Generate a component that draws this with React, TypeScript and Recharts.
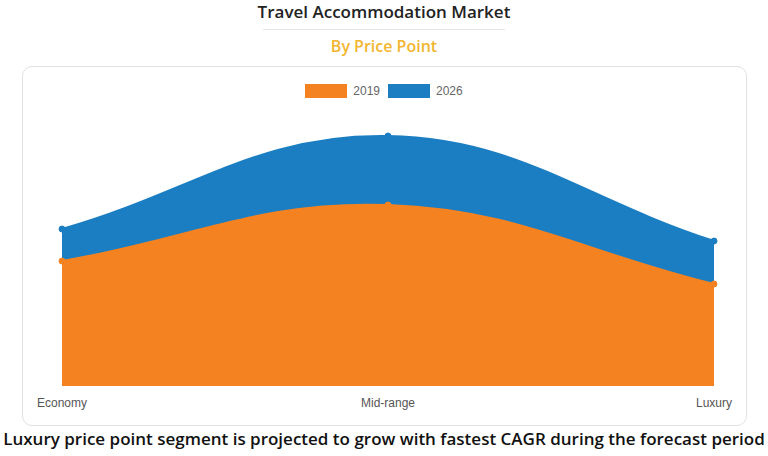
import { AreaChart, Area, XAxis, YAxis } from "recharts";

const categories = ["Economy", "Mid-range", "Luxury"];
const values2019 = [125, 181, 102];
const values2026 = [157, 250, 145];

const ORANGE = "#F58220";
const BLUE = "#1B7EC2";

const chartData = categories.map((name, i) => ({
  name,
  y2019: values2019[i],
  y2026: values2026[i],
}));

// spline with tension, like the one used by the original chart
function tensionCurve(context: any) {
  const t = 0.4;
  let line = NaN;
  let pts: number[][] = [];
  return {
    areaStart() {
      line = 0;
    },
    areaEnd() {
      line = NaN;
    },
    lineStart() {
      pts = [];
    },
    lineEnd() {
      const n = pts.length;
      if (n) {
        if (line) context.lineTo(pts[0][0], pts[0][1]);
        else context.moveTo(pts[0][0], pts[0][1]);
        const cpPrev: number[][] = [];
        const cpNext: number[][] = [];
        for (let i = 0; i < n; i++) {
          const prev = pts[Math.max(0, i - 1)];
          const cur = pts[i];
          const next = pts[Math.min(n - 1, i + 1)];
          const d01 = Math.hypot(cur[0] - prev[0], cur[1] - prev[1]);
          const d12 = Math.hypot(next[0] - cur[0], next[1] - cur[1]);
          let s01 = d01 / (d01 + d12);
          let s12 = d12 / (d01 + d12);
          if (isNaN(s01)) s01 = 0;
          if (isNaN(s12)) s12 = 0;
          const fa = t * s01;
          const fb = t * s12;
          cpPrev.push([cur[0] - fa * (next[0] - prev[0]), cur[1] - fa * (next[1] - prev[1])]);
          cpNext.push([cur[0] + fb * (next[0] - prev[0]), cur[1] + fb * (next[1] - prev[1])]);
        }
        for (let i = 1; i < n; i++) {
          context.bezierCurveTo(
            cpNext[i - 1][0],
            cpNext[i - 1][1],
            cpPrev[i][0],
            cpPrev[i][1],
            pts[i][0],
            pts[i][1]
          );
        }
      }
      if (line || (line !== 0 && n === 1)) context.closePath();
      line = 1 - line;
    },
    point(x: number, y: number) {
      pts.push([+x, +y]);
    },
  };
}

const legendItems = [
  { label: "2019", color: ORANGE },
  { label: "2026", color: BLUE },
];

export default function App() {
  return (
    <div
      style={{
        position: "absolute",
        left: 0,
        top: 0,
        width: 768,
        height: 456,
        background: "#fff",
        overflow: "hidden",
        fontFamily: "'Open Sans', sans-serif",
      }}
    >
      <div
        style={{
          position: "absolute",
          top: 0,
          width: 768,
          textAlign: "center",
          fontSize: 17,
          fontWeight: 600,
          color: "#222",
        }}
      >
        Travel Accommodation Market
      </div>
      <div
        style={{
          position: "absolute",
          top: 29,
          left: 263,
          width: 242,
          height: 1,
          background: "#e6e6e6",
        }}
      />
      <div
        style={{
          position: "absolute",
          top: 35,
          width: 768,
          textAlign: "center",
          fontSize: 16,
          fontWeight: 600,
          color: "#F2B630",
        }}
      >
        By Price Point
      </div>
      <div
        style={{
          position: "absolute",
          left: 22,
          top: 66,
          width: 723,
          height: 358,
          border: "1px solid #e2e2e2",
          borderRadius: 10,
        }}
      />
      <div
        style={{
          position: "absolute",
          top: 84,
          width: 768,
          display: "flex",
          justifyContent: "center",
          gap: 8,
        }}
      >
        {legendItems.map((it) => (
          <div key={it.label} style={{ display: "flex", alignItems: "center" }}>
            <span
              style={{
                width: 42,
                height: 14,
                background: it.color,
                display: "inline-block",
                marginRight: 6,
              }}
            />
            <span
              style={{
                fontSize: 12,
                color: "#666",
                fontFamily: "'Liberation Sans', Arial, sans-serif",
              }}
            >
              {it.label}
            </span>
          </div>
        ))}
      </div>
      <div style={{ position: "absolute", left: 0, top: 0 }}>
        <AreaChart
          width={768}
          height={456}
          data={chartData}
          margin={{ top: 86, right: 54, left: 62, bottom: 40 }}
        >
          <XAxis
            dataKey="name"
            axisLine={false}
            tickLine={false}
            tickSize={6}
            tickMargin={6}
            height={30}
            interval={0}
            tick={{
              fontSize: 12,
              fill: "#555",
              fontFamily: "'Liberation Sans', Arial, sans-serif",
            }}
          />
          <YAxis hide domain={[0, 300]} width={0} />
          <Area
            type={tensionCurve as any}
            dataKey="y2026"
            stroke={BLUE}
            strokeWidth={2}
            fill={BLUE}
            fillOpacity={1}
            dot={{ r: 3, fill: BLUE, stroke: BLUE, strokeWidth: 1 }}
            isAnimationActive={false}
          />
          <Area
            type={tensionCurve as any}
            dataKey="y2019"
            stroke={ORANGE}
            strokeWidth={2}
            fill={ORANGE}
            fillOpacity={1}
            dot={{ r: 3, fill: ORANGE, stroke: ORANGE, strokeWidth: 1 }}
            isAnimationActive={false}
          />
        </AreaChart>
      </div>
      <div
        style={{
          position: "absolute",
          top: 427,
          width: 768,
          textAlign: "center",
          fontSize: 17,
          fontWeight: 600,
          color: "#111",
          whiteSpace: "nowrap",
        }}
      >
        Luxury price point segment is projected to grow with fastest CAGR during the forecast period
      </div>
    </div>
  );
}
